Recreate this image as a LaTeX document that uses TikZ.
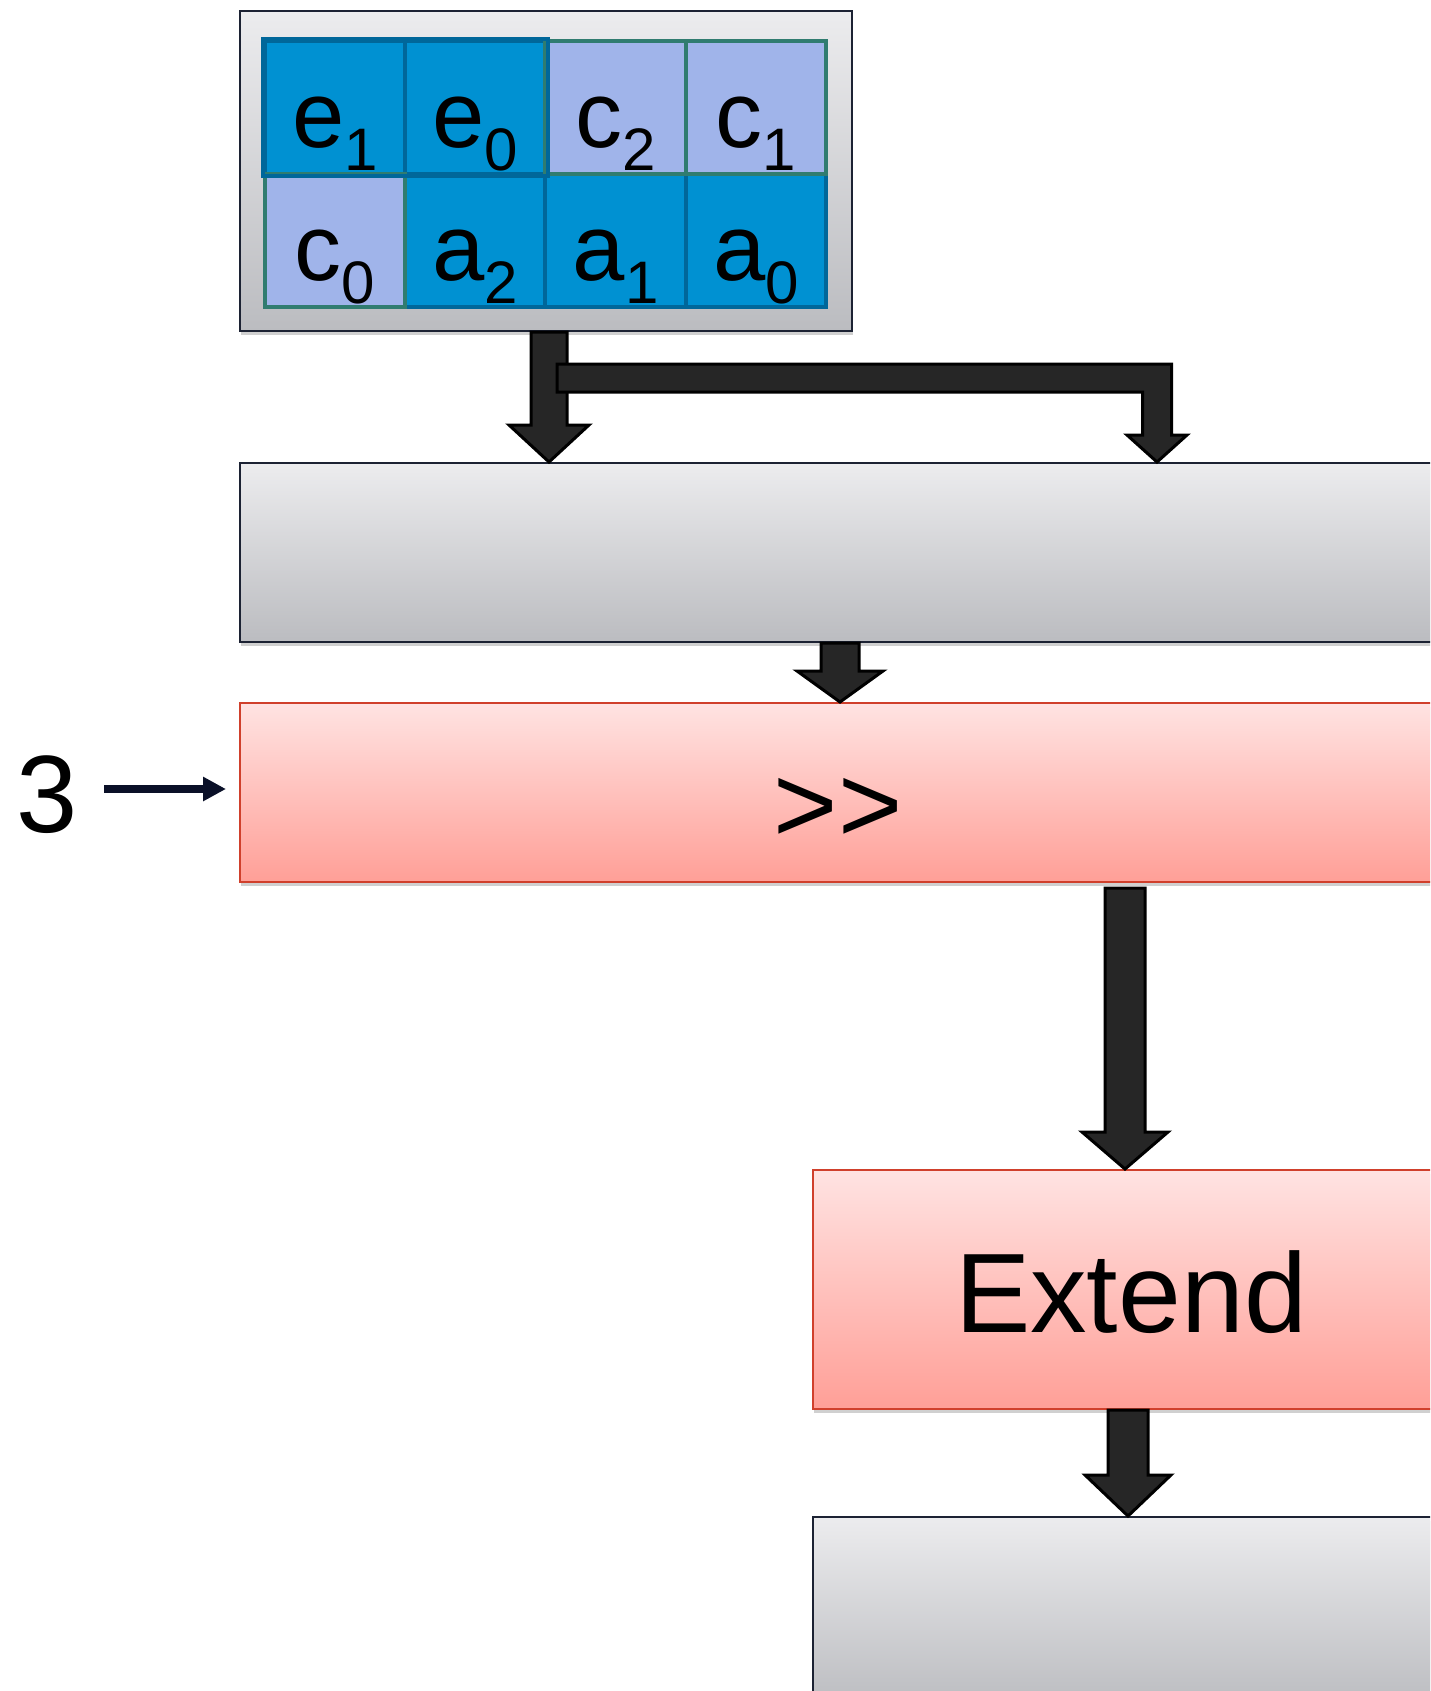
\documentclass[tikz,border=0pt]{standalone}
\usepackage{fontspec}
\setmainfont{Liberation Sans}
\usetikzlibrary{calc,arrows.meta,shadows}

\definecolor{panelTop}{HTML}{ECECEE}
\definecolor{panelBot}{HTML}{BBBCC0}
\definecolor{panelEdge}{HTML}{1C2233}
\definecolor{opTop}{HTML}{FFE3E2}
\definecolor{opBot}{HTML}{FF9F97}
\definecolor{opEdge}{HTML}{D0402C}
\definecolor{cellDark}{HTML}{0091D2}
\definecolor{cellDarkEdge}{HTML}{00679A}
\definecolor{cellLight}{HTML}{A0B4EA}
\definecolor{cellLightEdge}{HTML}{307C70}
\definecolor{arrowFill}{HTML}{262626}
\definecolor{navy}{HTML}{0A1028}

% subscript index used inside the register cells
\newcommand\subidx[1]{\raisebox{-23pt}{\fontsize{60}{60}\selectfont #1}}

% downward block arrow: #1 start point, #2 tip, #3 half shaft, #4 half head, #5 head length
\newcommand\blockdown[5]{%
  \path[blockarrow] let \p1=(#1), \p2=(#2) in
    (\x2-#3,\y1) -- (\x2+#3,\y1) -- (\x2+#3,\y2+#5) -- (\x2+#4,\y2+#5)
    -- (\x2,\y2) -- (\x2-#4,\y2+#5) -- (\x2-#3,\y2+#5) -- cycle;}

\begin{document}
\begin{tikzpicture}[x=1pt,y=-1pt,
  panel/.style={draw=panelEdge, line width=2pt, top color=panelTop, bottom color=panelBot,
    inner sep=0pt, anchor=north west,
    drop shadow={shadow xshift=1pt, shadow yshift=-4pt, opacity=.3, fill=black!60}},
  opbox/.style={draw=opEdge, line width=2pt, top color=opTop, bottom color=opBot,
    inner sep=0pt, anchor=north west,
    drop shadow={shadow xshift=1pt, shadow yshift=-4pt, opacity=.3, fill=black!60}},
  cell/.style={minimum width=140.25pt, minimum height=133pt, inner sep=0pt, line width=4pt,
    text height=80pt, text depth=1pt, font=\fontsize{94}{100}\selectfont},
  darkcell/.style={cell, fill=cellDark, draw=cellDarkEdge},
  lightcell/.style={cell, fill=cellLight, draw=cellLightEdge},
  darkedge/.style={draw=cellDarkEdge, line width=4pt},
  bigtext/.style={font=\fontsize{110}{120}\selectfont, inner sep=0pt},
  blockarrow/.style={fill=arrowFill, draw=black, line width=3pt, line join=miter},
  smallarrow/.style={draw=navy, line width=8pt, -{Triangle[length=23pt,width=23pt]}}]

\useasboundingbox (0,0) rectangle (1430,1691);
\clip (0,0) rectangle (1430,1691);
\fill[white] (0,0) rectangle (1430,1691);

% packed source register
\node[panel, minimum width=612pt, minimum height=320pt] (src) at (239,10) {};
\node[darkcell]  (e1) at (335.1,107.5) {e\subidx{1}};
\node[darkcell]  (e0) at (475.4,107.5) {e\subidx{0}};
\node[darkcell]  (a2) at (475.4,240.5) {a\subidx{2}};
\node[darkcell]  (a1) at (615.6,240.5) {a\subidx{1}};
\node[darkcell]  (a0) at (755.9,240.5) {a\subidx{0}};
\node[lightcell] (c2) at (615.6,107.5) {c\subidx{2}};
\node[lightcell] (c1) at (755.9,107.5) {c\subidx{1}};
\node[lightcell] (c0) at (335.1,240.5) {c\subidx{0}};
\draw[darkedge] (e1.north west) rectangle (e0.south east);

% processing stages
\node[panel, minimum width=1198pt, minimum height=179pt] (stage) at (239,462) {};
\node[opbox, minimum width=1198pt, minimum height=179pt] (shift) at (239,702) {};
\node[bigtext, anchor=base] (shiftlbl) at (838,842) {>\kern0pt>};
\node[opbox, minimum width=636pt, minimum height=239pt] (ext) at (812,1169) {};
\node[bigtext, font=\fontsize{113}{120}\selectfont] (extlbl) at ([yshift=-3pt]ext.center) {Extend};
\node[panel, minimum width=640pt, minimum height=190pt] (out) at (812,1516) {};

% shift amount
\node[bigtext, anchor=base] (three) at (47,832) {3};
\coordinate (feed) at (104,789);
\draw[smallarrow] (feed) -- ([xshift=-13pt]shift.west |- feed);

% arrow columns
\coordinate (colA) at (549,0);
\coordinate (colB) at (1157,0);
\coordinate (colC) at (840,0);
\coordinate (colD) at (1125,0);
\coordinate (colE) at (1128,0);
\coordinate (forkstart) at (557,378);

\blockdown{src.south -| colA}{stage.north -| colA}{18pt}{40pt}{37pt}
\path[blockarrow] let \p1=(forkstart), \p2=(stage.north -| colB) in
  (\x1,\y1+14pt) -- (\x2+14.5pt,\y1+14pt) -- (\x2+14.5pt,\y2+27pt) -- (\x2+30pt,\y2+27pt)
  -- (\x2,\y2) -- (\x2-30pt,\y2+27pt) -- (\x2-14.5pt,\y2+27pt) -- (\x2-14.5pt,\y1-14pt)
  -- (\x1,\y1-14pt) -- cycle;
\blockdown{stage.south -| colC}{shift.north -| colC}{19pt}{43pt}{31pt}
\blockdown{[yshift=-5pt]shift.south -| colD}{ext.north -| colD}{20pt}{43pt}{37pt}
\blockdown{ext.south -| colE}{out.north -| colE}{20pt}{43pt}{41pt}
\end{tikzpicture}
\end{document}
